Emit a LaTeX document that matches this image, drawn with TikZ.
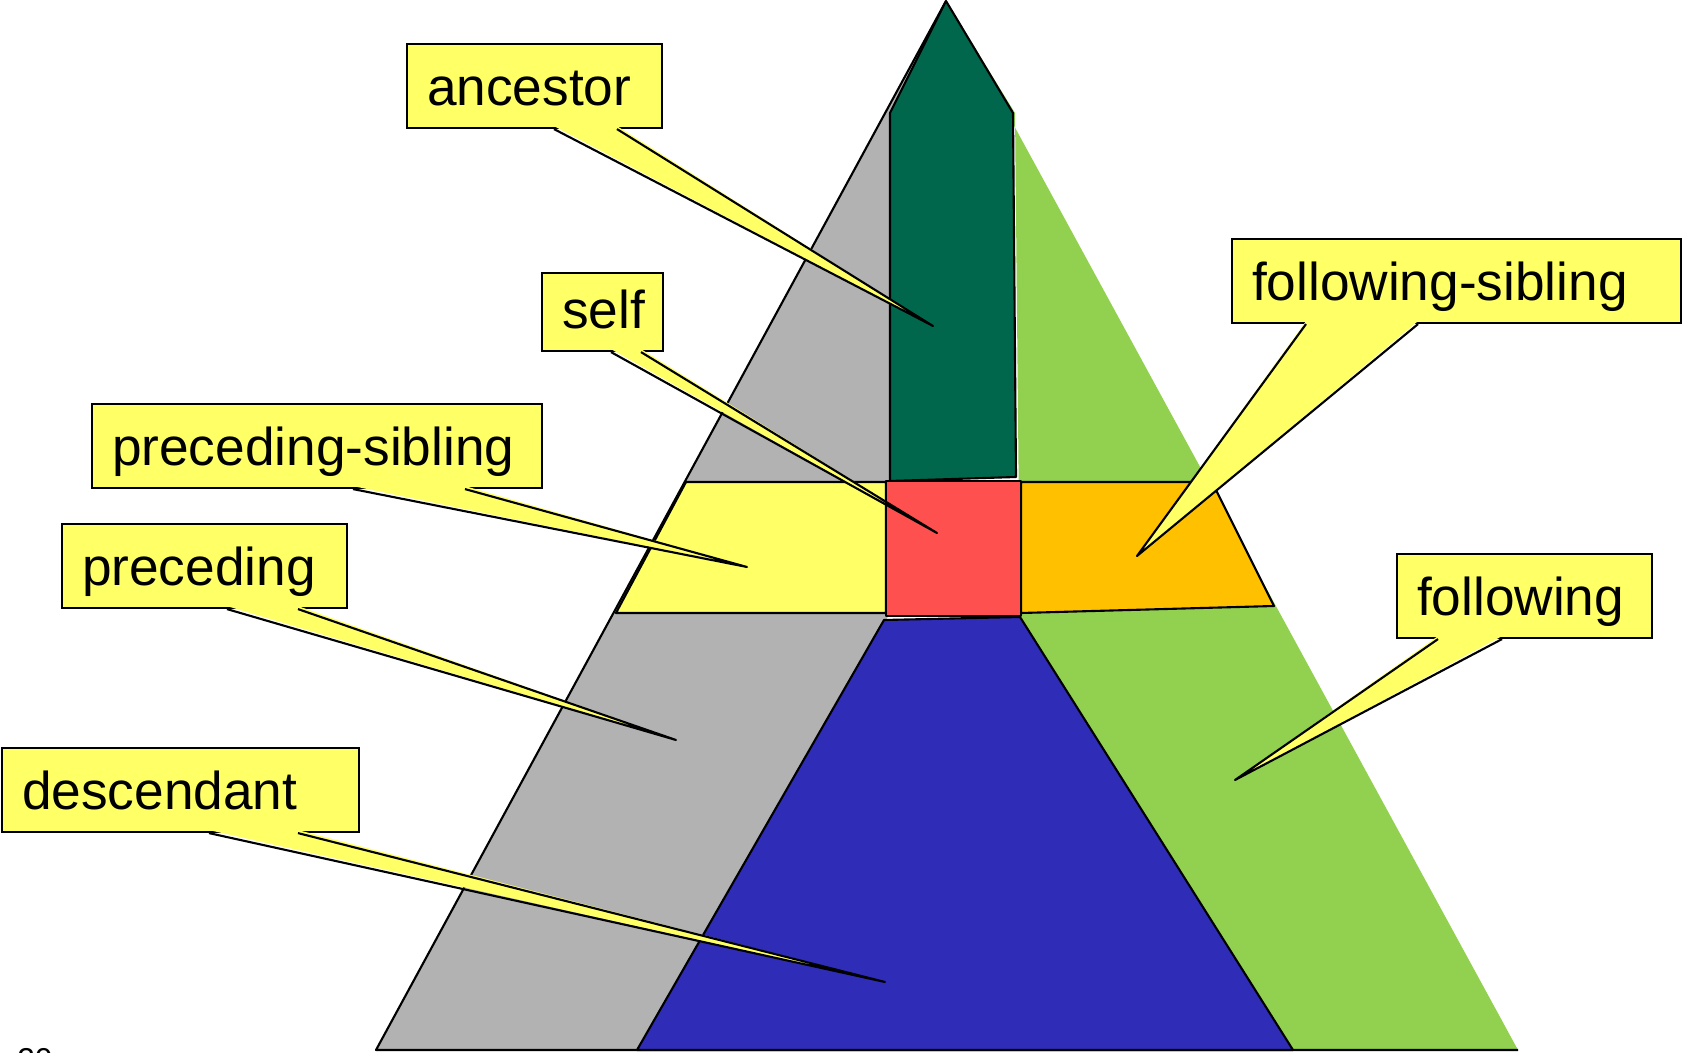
\documentclass[tikz,border=0pt]{standalone}
\usepackage{fontspec}
\setmainfont{Liberation Sans}
\usetikzlibrary{calc}

\definecolor{grau}{RGB}{178,178,178}
\definecolor{hellgruen}{RGB}{146,208,80}
\definecolor{dunkelgruen}{RGB}{0,103,77}
\definecolor{gelb}{RGB}{255,255,102}
\definecolor{rot}{RGB}{255,80,80}
\definecolor{orange}{RGB}{255,192,0}
\definecolor{blau}{RGB}{47,44,184}

\tikzset{
	linie/.style={black, line width=1.2pt, line join=round},
	box/.style={draw=black, fill=gelb, line width=1.2pt, anchor=north west, align=left,
		inner xsep=0.4cm, inner ysep=0.2cm, text height=1.02cm, text depth=0.26cm,
		font=\fontsize{30.3}{36}\selectfont}
}

\begin{document}
\begin{tikzpicture}[x=0.02cm, y=-0.02cm]
	\useasboundingbox (0,0) rectangle (1683,1053);

	%Dreieck links und rechts
	\fill[grau] (946,1) -- (376,1050) -- (637,1050) -- (890,613) -- (890,113) -- cycle;
	\fill[hellgruen] (946,1) -- (1518,1050) -- (1293,1050) -- (1020,617) -- (1015,113) -- cycle;
	\draw[linie] (946,1) -- (376,1050) -- (1518,1050);

	%ancestor
	\filldraw[linie, fill=dunkelgruen] (946,1) -- (890,113) -- (890,481) -- (1016,477) -- (1013,113) -- cycle;

	%descendant
	\filldraw[linie, fill=blau] (884,620) -- (1020,617) -- (1293,1050) -- (637,1050) -- cycle;

	%Geschwister
	\filldraw[linie, fill=gelb] (686,482) -- (886,482) -- (886,613) -- (616,613) -- cycle;
	\filldraw[linie, fill=orange] (1021,482) -- (1212,482) -- (1274,606) -- (1021,613) -- cycle;

	%self
	\filldraw[linie, fill=rot] (886,481) rectangle (1021,616);

	%Seitenzahl
	\node [anchor=north west, inner sep=0pt, font=\fontsize{18}{20}\selectfont] (pnr) at (17,1048) {20};

	%Spitzen der Zeiger
	\coordinate (ancTip) at (933,326);
	\coordinate (selfTip) at (937,533);
	\coordinate (prsTip) at (747,567);
	\coordinate (preTip) at (676,740);
	\coordinate (desTip) at (885,982);
	\coordinate (fosTip) at (1137,556);
	\coordinate (folTip) at (1235,780);

	%Beschriftungen
	\node [box, text width=4.3cm] (anc) at (406,43) {ancestor};
	\node [box, text width=1.62cm, text height=0.9cm] (self) at (541,272) {self};
	\node [box, text width=8.2cm] (prs) at (91,403) {preceding-sibling};
	\node [box, text width=4.9cm] (pre) at (61,523) {preceding};
	\node [box, text width=6.34cm] (des) at (1,747) {descendant};
	\node [box, text width=8.18cm] (fos) at (1231,238) {following-sibling};
	\node [box, text width=4.3cm] (fol) at (1396,553) {following};

	%Zeiger
	\fill[gelb] ($(anc.south west)+(148,-3)$) -- (ancTip) -- ($(anc.south west)+(211,-3)$) -- cycle;
	\draw[linie] ($(anc.south west)+(148,0)$) -- (ancTip) -- ($(anc.south west)+(211,0)$);

	\fill[gelb] ($(self.south west)+(70,-3)$) -- (selfTip) -- ($(self.south west)+(100,-3)$) -- cycle;
	\draw[linie] ($(self.south west)+(70,0)$) -- (selfTip) -- ($(self.south west)+(100,0)$);

	\fill[gelb] ($(prs.south west)+(262,-3)$) -- (prsTip) -- ($(prs.south west)+(374,-3)$) -- cycle;
	\draw[linie] ($(prs.south west)+(262,0)$) -- (prsTip) -- ($(prs.south west)+(374,0)$);

	\fill[gelb] ($(pre.south west)+(166,-3)$) -- (preTip) -- ($(pre.south west)+(237,-3)$) -- cycle;
	\draw[linie] ($(pre.south west)+(166,0)$) -- (preTip) -- ($(pre.south west)+(237,0)$);

	\fill[gelb] ($(des.south west)+(208,-3)$) -- (desTip) -- ($(des.south west)+(297,-3)$) -- cycle;
	\draw[linie] ($(des.south west)+(208,0)$) -- (desTip) -- ($(des.south west)+(297,0)$);

	\fill[gelb] ($(fos.south west)+(75,-3)$) -- (fosTip) -- ($(fos.south west)+(187,-3)$) -- cycle;
	\draw[linie] ($(fos.south west)+(75,0)$) -- (fosTip) -- ($(fos.south west)+(187,0)$);

	\fill[gelb] ($(fol.south west)+(42,-3)$) -- (folTip) -- ($(fol.south west)+(106,-3)$) -- cycle;
	\draw[linie] ($(fol.south west)+(42,0)$) -- (folTip) -- ($(fol.south west)+(106,0)$);

\end{tikzpicture}
\end{document}
